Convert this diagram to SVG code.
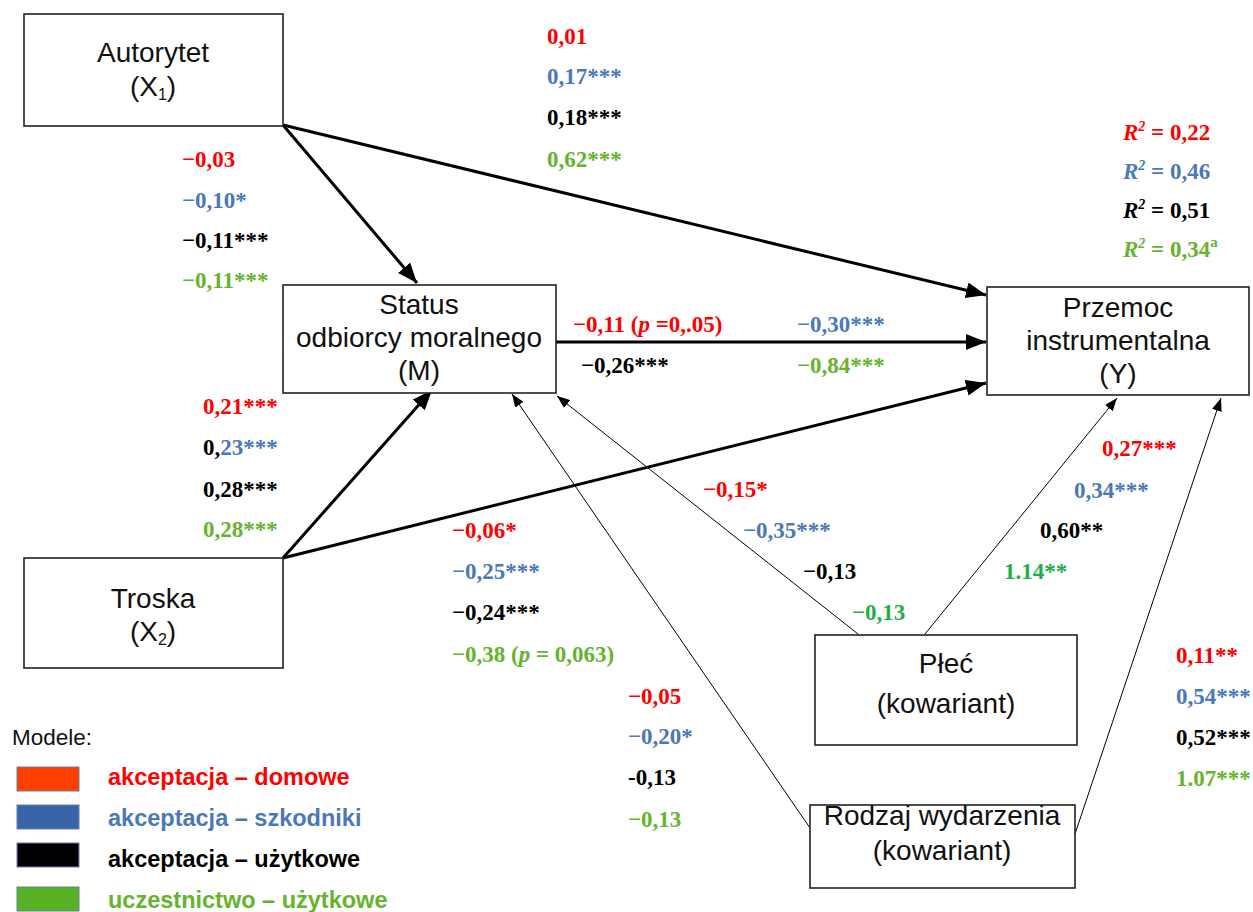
<svg xmlns="http://www.w3.org/2000/svg" width="1253" height="912" viewBox="0 0 1253 912">
<style>
.box{fill:#fff;stroke:#222;stroke-width:1.6}
.bt{font-family:"Liberation Sans",Arial,sans-serif;font-size:28px;fill:#111;text-anchor:middle}
.n{font-family:"Liberation Serif","Times New Roman",serif;font-size:23px;font-weight:bold}
.r{fill:#ff0000}.b{fill:#4a78b8}.k{fill:#000}.g{fill:#66b32e}.g2{fill:#1db04a}
.thick{stroke:#000;stroke-width:3;fill:none}
.thin{stroke:#000;stroke-width:1;fill:none}
.lg{font-family:"Liberation Sans",Arial,sans-serif;font-size:23.5px;font-weight:bold}
.i{font-style:italic}
</style>
<defs>
<marker id="ah" markerUnits="userSpaceOnUse" markerWidth="22" markerHeight="16" refX="20" refY="8" orient="auto"><path d="M0,0 L20,8 L0,16 Z" fill="#000"/></marker>
<marker id="ahs" markerUnits="userSpaceOnUse" markerWidth="14" markerHeight="10" refX="13" refY="5" orient="auto"><path d="M0,0 L13,5 L0,10 Z" fill="#000"/></marker>
</defs>
<rect width="1253" height="912" fill="#fff"/>
<g id="connectors">
<line class="thick" x1="283" y1="125" x2="417" y2="283" marker-end="url(#ah)"/>
<line class="thick" x1="283" y1="125" x2="986" y2="295" marker-end="url(#ah)"/>
<line class="thick" x1="556" y1="342" x2="986" y2="342" marker-end="url(#ah)"/>
<line class="thick" x1="283" y1="558" x2="432" y2="390" marker-end="url(#ah)"/>
<line class="thick" x1="283" y1="558" x2="986" y2="383" marker-end="url(#ah)"/>
<line class="thin" x1="858" y1="634" x2="557" y2="396" marker-end="url(#ahs)"/>
<line class="thin" x1="810" y1="828" x2="512" y2="394" marker-end="url(#ahs)"/>
<line class="thin" x1="925" y1="634" x2="1117" y2="398" marker-end="url(#ahs)"/>
<line class="thin" x1="1075" y1="834" x2="1221" y2="398" marker-end="url(#ahs)"/>
</g>
<g id="node-autorytet">
<rect class="box" x="24" y="14" width="259" height="112"/>
<text class="bt" x="153" y="62">Autorytet</text>
<text class="bt" x="153" y="96">(X<tspan font-size="16" dy="4">1</tspan><tspan dy="-4">)</tspan></text>
</g>
<g id="node-status">
<rect class="box" x="283" y="285" width="273" height="108"/>
<text class="bt" x="419" y="314">Status</text>
<text class="bt" x="419" y="347">odbiorcy moralnego</text>
<text class="bt" x="419" y="380">(M)</text>
</g>
<g id="node-przemoc">
<rect class="box" x="987" y="287" width="262" height="108"/>
<text class="bt" x="1118" y="317">Przemoc</text>
<text class="bt" x="1118" y="350">instrumentalna</text>
<text class="bt" x="1118" y="383">(Y)</text>
</g>
<g id="node-troska">
<rect class="box" x="24" y="558" width="259" height="110"/>
<text class="bt" x="153" y="608">Troska</text>
<text class="bt" x="153" y="641">(X<tspan font-size="16" dy="4">2</tspan><tspan dy="-4">)</tspan></text>
</g>
<g id="node-plec">
<rect class="box" x="815" y="635" width="262" height="110"/>
<text class="bt" x="946" y="673">Płeć</text>
<text class="bt" x="946" y="713">(kowariant)</text>
</g>
<g id="node-rodzaj">
<rect class="box" x="810" y="805" width="265" height="83"/>
<text class="bt" x="942" y="825">Rodzaj wydarzenia</text>
<text class="bt" x="942" y="860">(kowariant)</text>
</g>
<g id="labels">
<text class="n r" x="547" y="44">0,01</text>
<text class="n b" x="547" y="84">0,17***</text>
<text class="n k" x="547" y="125">0,18***</text>
<text class="n g" x="547" y="167">0,62***</text>

<text class="n r" x="1123" y="140"><tspan class="i">R</tspan><tspan class="i" font-size="14" dy="-9">2</tspan><tspan dy="9"> = 0,22</tspan></text>
<text class="n b" x="1123" y="179"><tspan class="i">R</tspan><tspan class="i" font-size="14" dy="-9">2</tspan><tspan dy="9"> = 0,46</tspan></text>
<text class="n k" x="1123" y="218"><tspan class="i">R</tspan><tspan class="i" font-size="14" dy="-9">2</tspan><tspan dy="9"> = 0,51</tspan></text>
<text class="n g" x="1123" y="257"><tspan class="i">R</tspan><tspan class="i" font-size="14" dy="-9">2</tspan><tspan dy="9"> = 0,34</tspan><tspan font-size="15" dy="-10">a</tspan></text>

<text class="n r" x="182" y="167">−0,03</text>
<text class="n b" x="182" y="208">−0,10*</text>
<text class="n k" x="182" y="248">−0,11***</text>
<text class="n g" x="182" y="288">−0,11***</text>

<text class="n r" x="573" y="332">−0,11 (<tspan class="i">p</tspan> =0,.05)</text>
<text class="n b" x="797" y="332">−0,30***</text>
<text class="n k" x="581" y="373">−0,26***</text>
<text class="n g" x="797" y="373">−0,84***</text>

<text class="n r" x="203" y="414">0,21***</text>
<text class="n b" x="203" y="455"><tspan class="k">0,</tspan>23***</text>
<text class="n k" x="203" y="497">0,28***</text>
<text class="n g" x="203" y="537">0,28***</text>

<text class="n r" x="452" y="538">−0,06*</text>
<text class="n b" x="452" y="579">−0,25***</text>
<text class="n k" x="452" y="620">−0,24***</text>
<text class="n g" x="452" y="662">−0,38 (<tspan class="i">p</tspan> = 0,063)</text>

<text class="n r" x="703" y="497">−0,15*</text>
<text class="n b" x="743" y="538">−0,35***</text>
<text class="n k" x="803" y="579">−0,13</text>
<text class="n g2" x="852" y="620">−0,13</text>

<text class="n r" x="1102" y="456">0,27***</text>
<text class="n b" x="1074" y="498">0,34***</text>
<text class="n k" x="1040" y="538">0,60**</text>
<text class="n g2" x="1004" y="579">1.14**</text>

<text class="n r" x="1176" y="663">0,11**</text>
<text class="n b" x="1176" y="704">0,54***</text>
<text class="n k" x="1176" y="745">0,52***</text>
<text class="n g" x="1176" y="786">1.07***</text>

<text class="n r" x="628" y="704">−0,05</text>
<text class="n b" x="628" y="744">−0,20*</text>
<text class="n k" x="628" y="785">-0,13</text>
<text class="n g" x="628" y="827">−0,13</text>
</g>
<g id="legend">
<text x="12" y="745" font-family="Liberation Sans, Arial, sans-serif" font-size="22.5" fill="#111">Modele:</text>
<rect x="17" y="767" width="62" height="24" fill="#ff3f00" stroke="#6a7fa0" stroke-width="1"/>
<rect x="17" y="805" width="62" height="24" fill="#3a64a8" stroke="#6a7fa0" stroke-width="1"/>
<rect x="17" y="843" width="62" height="24" fill="#000" stroke="#6a7fa0" stroke-width="1"/>
<rect x="17" y="887" width="62" height="24" fill="#58b023" stroke="#6a7fa0" stroke-width="1"/>
<text class="lg r" x="108" y="785">akceptacja – domowe</text>
<text class="lg b" x="108" y="826">akceptacja – szkodniki</text>
<text class="lg k" x="108" y="867">akceptacja – użytkowe</text>
<text class="lg g" x="108" y="908">uczestnictwo – użytkowe</text>
</g>
</svg>
